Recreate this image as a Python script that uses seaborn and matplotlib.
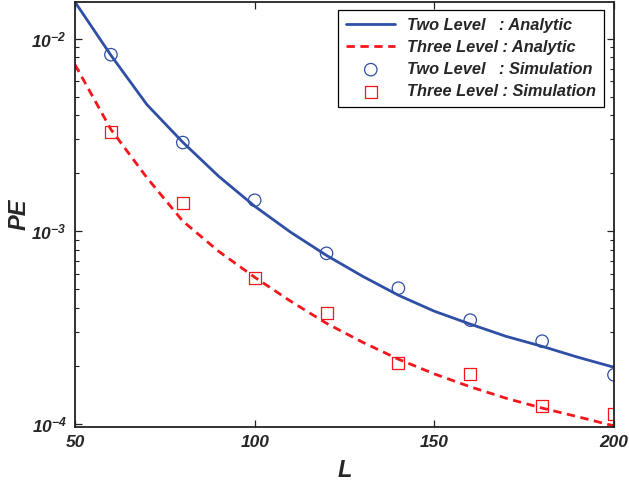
import numpy as np
import pandas as pd
import matplotlib
matplotlib.use("Agg")
import matplotlib.pyplot as plt
import seaborn as sns
from matplotlib.ticker import LogLocator, FixedLocator, FuncFormatter, NullFormatter

# ---- data ----
L_line = [50, 60, 70, 80, 90, 100, 110, 120, 130, 140, 150, 160, 170, 180, 190, 200]
two_analytic = [1.55e-2, 8.2e-3, 4.55e-3, 2.9e-3, 1.93e-3, 1.35e-3, 9.9e-4, 7.5e-4,
                5.85e-4, 4.66e-4, 3.85e-4, 3.3e-4, 2.85e-4, 2.53e-4, 2.22e-4, 1.97e-4]
three_analytic = [7.33e-3, 3.38e-3, 1.9e-3, 1.13e-3, 7.87e-4, 5.78e-4, 4.34e-4, 3.33e-4,
                  2.66e-4, 2.17e-4, 1.82e-4, 1.56e-4, 1.36e-4, 1.21e-4, 1.09e-4, 9.77e-5]

L_sim = [60, 80, 100, 120, 140, 160, 180, 200]
two_sim = [8.26e-3, 2.89e-3, 1.45e-3, 7.69e-4, 5.07e-4, 3.46e-4, 2.69e-4, 1.80e-4]
three_sim = [3.26e-3, 1.41e-3, 5.70e-4, 3.76e-4, 2.07e-4, 1.81e-4, 1.24e-4, 1.13e-4]

labels = ["Two Level   : Analytic", "Three Level : Analytic",
          "Two Level   : Simulation", "Three Level : Simulation"]
x_ticks = [50, 100, 150, 200]
y_ticks = [1e-4, 1e-3, 1e-2]

# ---- style ----
sns.set_style("ticks")
plt.rcParams['font.family'] = ['Liberation Sans', 'DejaVu Sans']
plt.rcParams['mathtext.fontset'] = 'custom'
plt.rcParams['mathtext.rm'] = 'Liberation Sans:bold:italic'
plt.rcParams['mathtext.it'] = 'Liberation Sans:bold:italic'
plt.rcParams['mathtext.bf'] = 'Liberation Sans:bold:italic'

blue = "#2F4FA6"
red = "#F5161B"

df_line = pd.DataFrame({"L": L_line, "two": two_analytic, "three": three_analytic})
df_sim = pd.DataFrame({"L": L_sim, "two": two_sim, "three": three_sim})

fig = plt.figure(figsize=(6.29, 4.82), dpi=100)
ax = fig.add_axes([75/629, 55/482, (614-75)/629, (427-2)/482])

sns.lineplot(data=df_line, x="L", y="two", ax=ax, color=blue, lw=2.0, label=labels[0])
sns.lineplot(data=df_line, x="L", y="three", ax=ax, color=red, lw=2.0, label=labels[1])
ax.lines[-1].set_dashes([3.0, 2.0])
sns.scatterplot(data=df_sim, x="L", y="two", ax=ax, marker="o", s=80,
                facecolor="none", edgecolor=blue, linewidth=0.9, label=labels[2])
sns.scatterplot(data=df_sim, x="L", y="three", ax=ax, marker="s", s=75,
                facecolor="none", edgecolor=red, linewidth=0.9, label=labels[3])

ax.set_yscale("log")
ax.set_xlim(50, 200)
ax.set_ylim(9.65e-5, 1.55e-2)

ax.xaxis.set_major_locator(FixedLocator(x_ticks))
ax.xaxis.set_major_formatter(FuncFormatter(lambda v, p: f"{int(v)}"))
ax.yaxis.set_major_locator(FixedLocator(y_ticks))
ax.yaxis.set_minor_locator(LogLocator(base=10, subs=np.arange(2, 10)))
ax.yaxis.set_minor_formatter(NullFormatter())
ax.yaxis.set_major_formatter(FuncFormatter(lambda v, p: r"$\mathbf{10^{%d}}$" % int(round(np.log10(v)))))

for s in ax.spines.values():
    s.set_visible(True)
    s.set_color("#222222")
    s.set_linewidth(1.3)

ax.tick_params(axis="both", which="both", direction="in", top=True, right=True,
               color="#222222")
ax.tick_params(axis="both", which="major", length=5, width=0.9, labelsize=12.5, pad=6)
ax.tick_params(axis="y", which="minor", length=3, width=0.8)
for t in ax.get_xticklabels() + ax.get_yticklabels():
    t.set_fontweight("bold")
    t.set_fontstyle("italic")

ax.set_xlabel("L", fontsize=17, fontweight="bold", fontstyle="italic", labelpad=6)
ax.set_ylabel("PE", fontsize=17, fontweight="bold", fontstyle="italic")
ax.yaxis.set_label_coords(-0.082, 0.5)

leg = ax.legend(loc="upper right", bbox_to_anchor=(0.9815, 0.9812), borderaxespad=0,
                frameon=True, fancybox=False, edgecolor="black", framealpha=1,
                borderpad=0.5, labelspacing=0.42, handlelength=3.0, handletextpad=0.7,
                prop={"weight": "bold", "style": "italic", "size": 11.8})
leg.get_frame().set_linewidth(0.9)

fig.savefig("out.png", dpi=100)
